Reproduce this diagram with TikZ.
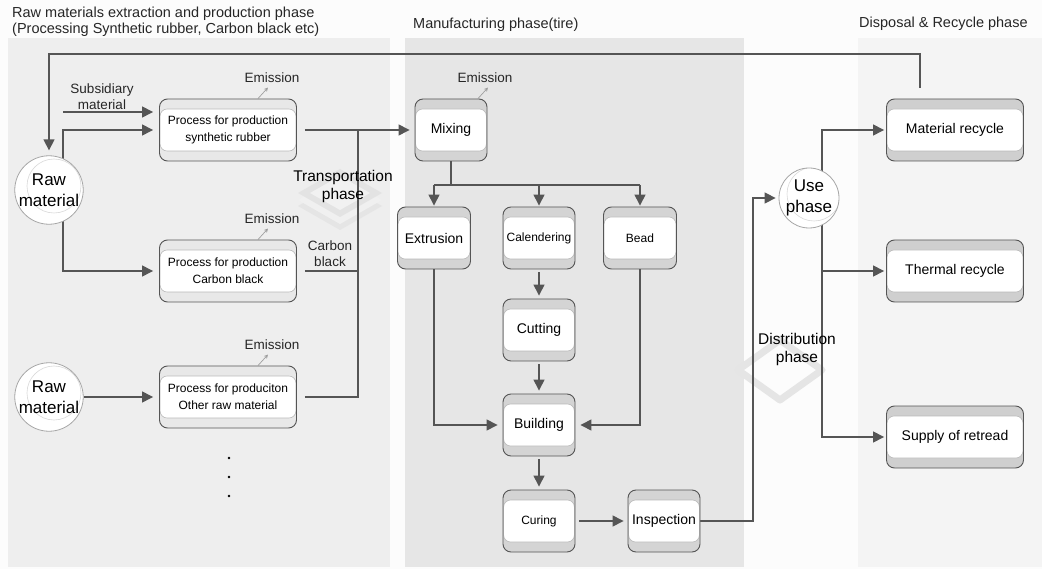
\documentclass[tikz,border=0pt]{standalone}
\usepackage{fontspec}
\setmainfont{Liberation Sans}
\usetikzlibrary{arrows.meta,calc}
\pgfdeclarelayer{panels}
\pgfdeclarelayer{lines}
\pgfsetlayers{panels,lines,main}
\definecolor{bgc}{HTML}{FCFCFC}
\definecolor{lpan}{HTML}{EEEEEE}
\definecolor{mpan}{HTML}{E6E6E6}
\definecolor{rpan}{HTML}{F4F4F4}
\definecolor{linec}{HTML}{555555}
\definecolor{lightstrip}{HTML}{E8E8E8}
\definecolor{darkstrip}{HTML}{D4D4D4}
\newcommand\lblfont{\fontsize{13.5}{16}\selectfont}
\newcommand\ttlfont{\fontsize{14.5}{17}\selectfont}
\newcommand\procfont{\fontsize{12}{17}\selectfont}
\newcommand\stepfont{\fontsize{14}{17}\selectfont}
\newcommand\smstepfont{\fontsize{12}{17}\selectfont}
\newcommand\circfont{\fontsize{17}{20.5}\selectfont}
\newcommand\phasefont{\fontsize{15.5}{18}\selectfont}
\begin{document}
\begin{tikzpicture}[x=1pt,y=-1pt,
  ln/.style={draw=linec,line width=1.4pt},
  arr/.style={ln,-{Triangle[length=11pt,width=11pt]},shorten >=3pt},
  emarr/.style={draw=gray!75,line width=0.7pt,-{Stealth[length=4pt,width=4pt]}},
  lbl/.style={font=\lblfont,text=black!85,inner sep=0pt,align=center},
  ttl/.style={font=\ttlfont,text=black!85,inner sep=0pt,align=left},
  phaselbl/.style={font=\phasefont,inner sep=0pt,align=center},
  innerwhite/.style={path picture={\draw[draw=gray!55,fill=white,line width=0.6pt,rounded corners=7pt]
      ([xshift=0.6pt,yshift=-10pt]path picture bounding box.north west) rectangle
      ([xshift=-0.6pt,yshift=10pt]path picture bounding box.south east);}},
  procbox/.style={rounded corners=8pt,draw=linec,line width=0.9pt,fill=lightstrip,
      minimum width=#1,minimum height=62pt,inner sep=0pt,align=center,font=\procfont,innerwhite},
  stepbox/.style={rounded corners=8pt,draw=linec,line width=0.9pt,fill=darkstrip,
      minimum width=#1,minimum height=62pt,inner sep=0pt,align=center,font=\stepfont,innerwhite},
  circ/.style={circle,draw=gray!70,line width=0.8pt,fill=white,minimum size=62pt,inner sep=0pt,
      align=center,font=\circfont,
      path picture={\draw[gray!30,line width=0.6pt] ([xshift=5pt,yshift=4pt]path picture bounding box.center) circle (27pt);}},
  dotc/.style={circle,fill=black,inner sep=0pt,minimum size=2.6pt}
]
\useasboundingbox (0,0) rectangle (1042,569);

% ---------- panels and background decorations
\begin{pgfonlayer}{panels}
  \fill[bgc] (0,0) rectangle (1042,569);
  \fill[lpan] (8,38) rectangle (390,567);
  \fill[mpan] (405,38) rectangle (744,567);
  \fill[rpan] (858,38) rectangle (1042,567);
  % transportation phase stack icon
  \fill[gray!20] (340,182) -- (382,206) -- (340,230) -- (298,206) -- cycle;
  \fill[gray!12] (340,176) -- (382,200) -- (340,224) -- (298,200) -- cycle;
  \fill[gray!22] (340,169) -- (382,193) -- (340,217) -- (298,193) -- cycle;
  \fill[gray!11] (340,176) -- (370,193) -- (340,210) -- (310,193) -- cycle;
  % distribution phase icon
  \draw[gray!20,line width=7pt,line join=round] (780,340) -- (822,370) -- (780,400) -- (738,370) -- cycle;
\end{pgfonlayer}

% ---------- titles
\node[ttl,anchor=base west] (t1a) at (12,18) {Raw materials extraction and production phase};
\node[ttl,anchor=base west] (t1b) at (12,34) {(Processing Synthetic rubber, Carbon black etc)};
\node[ttl,anchor=base west] (t2) at (413,29) {Manufacturing phase(tire)};
\node[ttl,anchor=base west] (t3) at (859,28) {Disposal \& Recycle phase};

% ---------- nodes
\node[circ] (raw1) at (49,190) {Raw\\material};
\node[circ] (raw2) at (49,397) {Raw\\material};
\node[procbox=137pt] (sr) at (228,130) {Process for production\\synthetic rubber};
\node[procbox=137pt] (cb) at (228,271) {Process for production\\Carbon black};
\node[procbox=137pt] (oth) at (228,397) {Process for produciton\\Other raw material};

\node[stepbox=72pt] (mix) at (451,130) {Mixing};
\node[stepbox=73pt] (ext) at (434,238) {Extrusion};
\node[stepbox=72pt,font=\smstepfont] (cal) at (539,238) {Calendering};
\node[stepbox=73pt,font=\smstepfont] (bead) at (640,238) {Bead};
\node[stepbox=72pt] (cut) at (539,330) {Cutting};
\node[stepbox=72pt] (build) at (539,425) {Building};
\node[stepbox=72pt,font=\smstepfont] (cure) at (539,521) {Curing};
\node[stepbox=72pt] (insp) at (664,521) {Inspection};

\node[circ,minimum size=60pt] (use) at (809,198) {Use\\phase};
\node[stepbox=137pt,fill=gray!38] (mr) at (955,130) {Material recycle};
\node[stepbox=137pt,fill=gray!38] (tr) at (955,271) {Thermal recycle};
\node[stepbox=137pt,fill=gray!38] (sup) at (955,437) {Supply of retread};

\node[phaselbl] (trans) at (343,186) {Transportation\\phase};
\node[phaselbl] (dist) at (797,349) {Distribution\\phase};

\node[lbl] (subl) at (102,97) {Subsidiary\\material};
\node[lbl] (cbl) at (330,254) {Carbon\\black};

\node[dotc] (d1) at (229,458) {};
\node[dotc] (d2) at (229,477) {};
\node[dotc] (d3) at (229,496) {};

% ---------- emissions
\foreach \b/\n in {sr/e1,cb/e2,oth/e3}{
  \draw[emarr] ([xshift=30pt]\b.north) -- ++(10,-11) coordinate (\n);
  \node[lbl,anchor=base] at ([xshift=4pt,yshift=5pt]\n) {Emission};
}
\draw[emarr] ([xshift=27pt]mix.north) -- ++(10,-11) coordinate (e4);
\node[lbl,anchor=base] (em4) at ([xshift=-3pt,yshift=5pt]e4) {Emission};

% ---------- connectors
\coordinate (fb) at (920,88);
\coordinate (rx) at (63,0);
\coordinate (bus) at (358,0);
\coordinate (split) at (451,185);
\coordinate (dx) at (753,0);
\coordinate (ux) at (822,0);
\coordinate (subs) at (63,112);

\begin{pgfonlayer}{lines}
  \draw[arr,shorten >=5pt] (fb) -- (920,54) -| (raw1.north);
  \draw[arr,shorten >=6pt] (subs) -- (subs -| sr.west);
  \draw[arr,shorten >=6pt] (raw1.center -| rx) |- (sr.west);
  \draw[arr,shorten >=6pt] (raw1.center -| rx) |- (cb.west);
  \draw[arr,shorten >=6pt] (raw2) -- (oth.west);
  \draw[arr,shorten <=8pt,shorten >=5pt] (sr.east) -- (mix.west);
  \draw[ln,shorten <=8pt] (cb.east) -- (cb.east -| bus);
  \draw[ln,shorten <=8pt] (oth.east) -- (oth.east -| bus) -- (bus |- sr.east);
  \draw[ln] (mix.south) -- (split);
  \draw[ln] (split -| ext.north) -- (split -| bead.north);
  \draw[arr,shorten >=1pt] (split -| ext.north) -- (ext.north);
  \draw[arr,shorten >=1pt] (split -| cal.north) -- (cal.north);
  \draw[arr,shorten >=1pt] (split -| bead.north) -- (bead.north);
  \draw[arr,shorten <=3pt] (cal) -- (cut);
  \draw[arr,shorten <=3pt] (cut) -- (build);
  \draw[arr,shorten <=3pt] (build) -- (cure);
  \draw[arr,shorten <=4pt,shorten >=4pt] (cure) -- (insp);
  \draw[arr,shorten >=5pt] (ext.south) |- (build.west);
  \draw[arr,shorten >=5pt] (bead.south) |- (build.east);
  \draw[arr] (insp.east) -- (insp.east -| dx) |- (use.west);
  \draw[arr,shorten >=2pt] (use.center -| ux) |- (mr.west);
  \draw[arr,shorten >=2pt] (use.center -| ux) |- (tr.west);
  \draw[arr,shorten >=2pt] (use.center -| ux) |- (sup.west);
\end{pgfonlayer}
\end{tikzpicture}
\end{document}
